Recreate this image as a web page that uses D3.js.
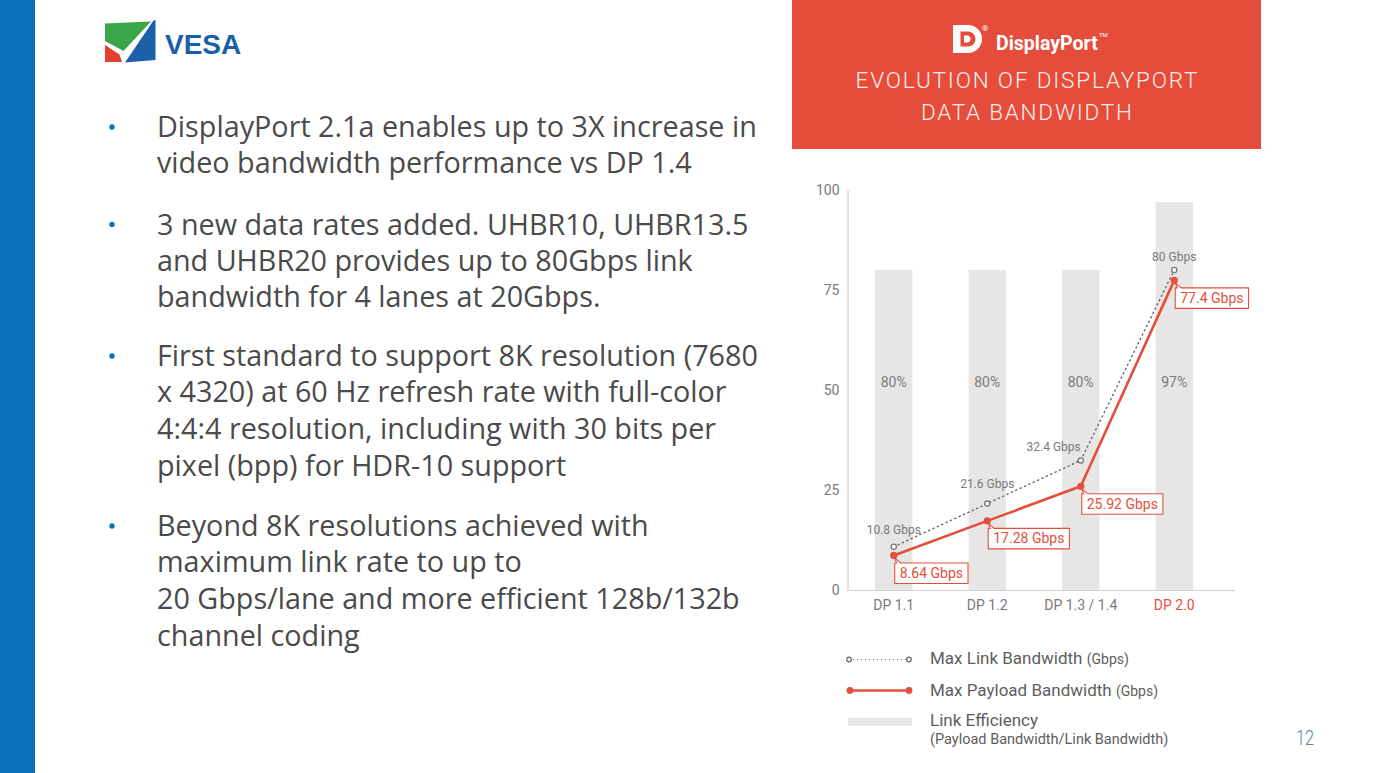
<!DOCTYPE html>
<html><head><meta charset="utf-8">
<script src="https://cdn.jsdelivr.net/npm/d3@7"></script>
<style>
html,body{margin:0;padding:0;background:#fff;}
svg{display:block;}
</style></head>
<body>
<svg id="slide" width="1375" height="773"></svg>
<script>
// ---- data ----
const categories = ["DP 1.1", "DP 1.2", "DP 1.3 / 1.4", "DP 2.0"];
const linkBandwidth = [10.8, 21.6, 32.4, 80];
const payloadBandwidth = [8.64, 17.28, 25.92, 77.4];
const linkEfficiency = [80, 80, 80, 97];
const yTicks = [0, 25, 50, 75, 100];
const bullets = [
  ["DisplayPort 2.1a enables up to 3X increase in", "video bandwidth performance vs DP 1.4"],
  ["3 new data rates added. UHBR10, UHBR13.5", "and UHBR20 provides up to 80Gbps link", "bandwidth for 4 lanes at 20Gbps."],
  ["First standard to support 8K resolution (7680", "x 4320) at 60 Hz refresh rate with full-color", "4:4:4 resolution, including with 30 bits per", "pixel (bpp) for HDR-10 support"],
  ["Beyond 8K resolutions achieved with", "maximum link rate to up to", "20 Gbps/lane and more efficient 128b/132b", "channel coding"]
];
// label placement (styling)
const linkLabelPos = [[0,-12.5,"middle"],[0,-15.3,"middle"],[0,-9.7,"end"],[0,-9.3,"middle"]];

const svg = d3.select("#slide");
const RED = "#e2503d";
const GRAY = "#7a7a7a";
const FONT = "Roboto, 'Noto Sans', sans-serif";

// ---- left blue bar ----
svg.append("rect").attr("x",0).attr("y",0).attr("width",35).attr("height",773).attr("fill","#0a70bd");

// ---- VESA logo ----
const logo = svg.append("g");
logo.append("path").attr("d","M105,23.5 L151,21.5 L123.5,51 L105,41 Z").attr("fill","#3aa64a");
logo.append("path").attr("d","M105,45 L119.5,54.5 L122,62 L105,62 Z").attr("fill","#e2412f");
logo.append("path").attr("d","M125,62.5 L153.5,20.5 L155.5,20 L155.5,60 Z").attr("fill","#1a60ab");
logo.append("text").attr("x",165).attr("y",53.5).attr("font-family","'Liberation Sans', Arial, sans-serif")
  .attr("font-weight","bold").attr("font-size",28).attr("fill","#1a5ea8").text("VESA");

// ---- bullet text ----
const txt = svg.append("g").attr("font-family","'Open Sans', 'Noto Sans', sans-serif").attr("fill","#4a4a4a");
const centers = [[127,163],[224.5,260.5,296.5],[356,392,429,466],[526,562,599,636]];
const probe = txt.append("text").attr("font-size",26).text(bullets[0][0]);
const fs = 26 * 600 / probe.node().getComputedTextLength();
probe.remove();
bullets.forEach((lines,i)=>{
  svg.append("circle").attr("cx",112).attr("cy",centers[i][0]).attr("r",2.7).attr("fill","#0a70bd");
  lines.forEach((l,j)=>{
    txt.append("text").attr("x",157).attr("y",centers[i][j]).attr("dy","0.36em")
      .attr("font-size",fs).text(l);
  });
});

// ---- header ----
svg.append("rect").attr("x",792).attr("y",0).attr("width",469).attr("height",149).attr("fill","#e54c3b");
const dp = svg.append("g");
dp.append("path").attr("fill-rule","evenodd").attr("fill","#fff")
  .attr("d","M953,25 H968 A14,14 0 0 1 968,53 H953 Z M960.5,31.5 H968 A7.5,7.5 0 0 1 968,46.5 H960.5 Z");
dp.append("path").attr("fill","#fff").attr("d","M964,35.5 H967 A3.5,3.5 0 0 1 967,42.5 H964 Z");
dp.append("text").attr("x",982).attr("y",31).attr("font-size",8).attr("fill","#fff").attr("font-family",FONT).text("®");
dp.append("text").attr("x",996).attr("y",50).attr("font-size",19.5).attr("font-weight","bold").attr("fill","#fff").attr("font-family",FONT).text("DisplayPort");
dp.append("text").attr("x",1099).attr("y",37).attr("font-size",6).attr("fill","#fff").attr("font-family",FONT).text("TM");
const title = svg.append("g").attr("font-family",FONT).attr("font-weight",300).attr("font-size",22.5)
  .attr("fill","#fdeeea").attr("text-anchor","middle");
title.append("text").attr("x",1026.5).attr("y",88).attr("textLength",342).attr("lengthAdjust","spacing").text("EVOLUTION OF DISPLAYPORT");
title.append("text").attr("x",1026.5).attr("y",119.5).attr("textLength",211).attr("lengthAdjust","spacing").text("DATA BANDWIDTH");

// ---- chart ----
const x = d3.scaleBand().domain(categories).range([847,1221]).paddingInner(0.6).paddingOuter(0.3);
const y = d3.scaleLinear().domain([0,100]).range([590,190]);
const cx = d => x(d) + x.bandwidth()/2;

const chart = svg.append("g").attr("font-family",FONT);

chart.selectAll("rect.bar").data(categories).join("rect").attr("class","bar")
  .attr("x",d=>x(d)).attr("width",x.bandwidth())
  .attr("y",(d,i)=>y(linkEfficiency[i])).attr("height",(d,i)=>y(0)-y(linkEfficiency[i]))
  .attr("fill","#e7e6e5");
chart.selectAll("text.pct").data(categories).join("text").attr("class","pct")
  .attr("x",d=>cx(d)).attr("y",387).attr("text-anchor","middle").attr("font-size",14)
  .attr("fill",GRAY).text((d,i)=>linkEfficiency[i]+"%");

const yAxis = d3.axisLeft(y).tickValues(yTicks).tickSize(0).tickPadding(8);
const gy = chart.append("g").attr("transform","translate(847.5,0)").call(yAxis);
gy.select(".domain").attr("stroke","#c4c4c4").attr("stroke-width",1);
gy.selectAll("text").attr("font-family",FONT).attr("font-size",14).attr("fill",GRAY);

const xAxis = d3.axisBottom(x).tickSize(0).tickPadding(10);
const gx = chart.append("g").attr("transform","translate(0,590.5)").call(xAxis);
gx.select(".domain").remove();
gx.append("line").attr("x1",847).attr("x2",1235).attr("stroke","#cfcfcf").attr("stroke-width",1.2);
gx.selectAll(".tick text").attr("font-family",FONT).attr("font-size",14)
  .attr("fill",(d,i)=> i===3 ? RED : GRAY);

const linkLine = d3.line().x((v,i)=>cx(categories[i])).y(v=>y(v));
chart.append("path").datum(linkBandwidth).attr("d",linkLine).attr("fill","none")
  .attr("stroke","#666").attr("stroke-width",1.4).attr("stroke-dasharray","1.2,3.6").attr("stroke-linecap","round");
chart.selectAll("circle.link").data(linkBandwidth).join("circle").attr("class","link")
  .attr("cx",(v,i)=>cx(categories[i])).attr("cy",v=>y(v)).attr("r",2.6)
  .attr("fill","#fff").attr("stroke","#777").attr("stroke-width",1.3);
chart.selectAll("text.linklab").data(linkBandwidth).join("text").attr("class","linklab")
  .attr("x",(v,i)=>cx(categories[i])+linkLabelPos[i][0]).attr("y",(v,i)=>y(v)+linkLabelPos[i][1])
  .attr("text-anchor",(v,i)=>linkLabelPos[i][2]).attr("font-size",12).attr("fill",GRAY)
  .text(v=>v+" Gbps");

chart.append("path").datum(payloadBandwidth).attr("d",linkLine).attr("fill","none")
  .attr("stroke",RED).attr("stroke-width",2.6).attr("stroke-linejoin","round");
chart.selectAll("circle.pay").data(payloadBandwidth).join("circle").attr("class","pay")
  .attr("cx",(v,i)=>cx(categories[i])).attr("cy",v=>y(v)).attr("r",3.6).attr("fill",RED);

const boxes = chart.selectAll("g.box").data(payloadBandwidth).join("g").attr("class","box")
  .attr("transform",(v,i)=>`translate(${cx(categories[i])+1},${y(v)+7.5})`);
boxes.each(function(v){
  const g = d3.select(this);
  const t = g.append("text").attr("x",5).attr("y",15).attr("font-size",14).attr("fill",RED).text(v+" Gbps");
  const w = t.node().getComputedTextLength() + 10;
  g.insert("path","text")
    .attr("d",`M0,0 L2,0 L0,-5 L6,0 H${w} V20.5 H0 Z`)
    .attr("fill","#fff").attr("stroke",RED).attr("stroke-width",1.1);
});

// ---- legend ----
const lg = svg.append("g").attr("font-family",FONT);
lg.append("line").attr("x1",849).attr("x2",909).attr("y1",659.5).attr("y2",659.5)
  .attr("stroke","#777").attr("stroke-width",1.2).attr("stroke-dasharray","1,3");
[849,909].forEach(px=>lg.append("circle").attr("cx",px).attr("cy",659.5).attr("r",2.3).attr("fill","#fff").attr("stroke","#666").attr("stroke-width",1.2));
lg.append("line").attr("x1",850).attr("x2",909).attr("y1",690.5).attr("y2",690.5).attr("stroke",RED).attr("stroke-width",2.6);
[850,909].forEach(px=>lg.append("circle").attr("cx",px).attr("cy",690.5).attr("r",3.4).attr("fill",RED));
lg.append("rect").attr("x",848).attr("y",718).attr("width",64).attr("height",8).attr("fill","#e7e6e5");

const t1 = lg.append("text").attr("x",930).attr("y",664).attr("fill","#5e5e5e").attr("font-size",17);
t1.append("tspan").text("Max Link Bandwidth ");
t1.append("tspan").attr("font-size",14).text("(Gbps)");
const t2 = lg.append("text").attr("x",930).attr("y",695.5).attr("fill","#5e5e5e").attr("font-size",17);
t2.append("tspan").text("Max Payload Bandwidth ");
t2.append("tspan").attr("font-size",14).text("(Gbps)");
lg.append("text").attr("x",930).attr("y",726).attr("fill","#5e5e5e").attr("font-size",17).text("Link Efficiency");
lg.append("text").attr("x",930).attr("y",744).attr("fill","#5e5e5e").attr("font-size",14.5).text("(Payload Bandwidth/Link Bandwidth)");

svg.append("text").attr("x",1296).attr("y",745).attr("font-family",FONT).attr("font-weight",300)
  .attr("font-size",20).attr("textLength",18).attr("lengthAdjust","spacingAndGlyphs").attr("fill","#5a7ea6").text("12");
</script>
</body></html>
